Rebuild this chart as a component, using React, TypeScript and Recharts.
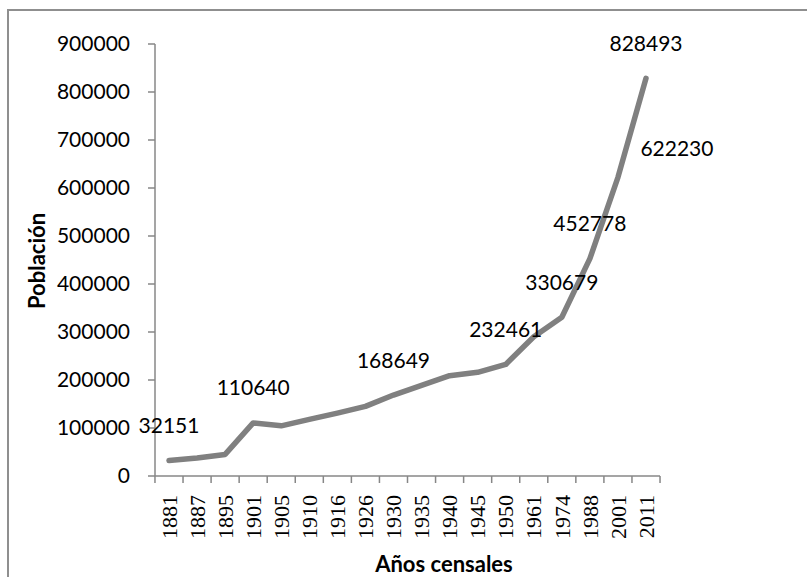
import { ComposedChart, Line, XAxis, YAxis, LabelList } from 'recharts';

const years = ['1881', '1887', '1895', '1901', '1905', '1910', '1916', '1926', '1930', '1935', '1940', '1945', '1950', '1961', '1974', '1988', '2001', '2011'];
const poblacion = [32151, 37500, 45000, 110640, 104500, 118000, 131000, 145000, 168649, 189000, 209000, 216000, 232461, 290000, 330679, 452778, 622230, 828493];
const labeledYears = ['1881', '1901', '1930', '1950', '1974', '1988', '2001', '2011'];
const yTicks = [0, 100000, 200000, 300000, 400000, 500000, 600000, 700000, 800000, 900000];

const data = years.map((year, i) => ({ year, poblacion: poblacion[i] }));

const AXIS = '#878787';
const NUM_FONT = 'Lato, "Open Sans", sans-serif';

const YearTick = (props: any) => {
  const { x, y, payload, index, width, visibleTicksCount } = props;
  const half = width && visibleTicksCount ? width / visibleTicksCount / 2 : 14;
  return (
    <g>
      {index === 0 && <line x1={x - half} y1={y} x2={x - half} y2={y + 7} stroke={AXIS} strokeWidth={1.5} />}
      <line x1={x + half} y1={y} x2={x + half} y2={y + 7} stroke={AXIS} strokeWidth={1.5} />
      <text
        transform={`translate(${x},${y + 19}) rotate(-90)`}
        textAnchor='end'
        dy='0.35em'
        fontFamily='"Liberation Serif", "Times New Roman", serif'
        fontSize={22}
        fill='#000'
      >
        {payload.value}
      </text>
    </g>
  );
};

const renderLabel = (props: any) => {
  const { x, y, value, index } = props;
  if (!labeledYears.includes(years[index])) return null;
  // 2001 label sits to the right of the line
  const dx = years[index] === '2001' ? 59 : 0;
  const dy = years[index] === '2001' ? -30 : -36;
  return (
    <text
      x={x + dx}
      y={y + dy}
      textAnchor='middle'
      dominantBaseline='central'
      fontFamily={NUM_FONT}
      fontSize={21}
      fill='#000'
    >
      {value}
    </text>
  );
};

export default function App() {
  return (
    <div style={{ position: 'relative', width: 807, height: 577, background: '#fff' }}>
      <style>{'body{margin:0}'}</style>
      <ComposedChart
        width={807}
        height={577}
        data={data}
        margin={{ top: 44, right: 147, left: 80, bottom: 31 }}
      >
        <XAxis
          dataKey='year'
          scale='point'
          padding={{ left: 14, right: 14 }}
          height={70}
          interval={0}
          stroke={AXIS}
          strokeWidth={1.5}
          tickLine={false}
          tickSize={0}
          tickMargin={0}
          tick={<YearTick />}
        />
        <YAxis
          width={75}
          domain={[0, 900000]}
          ticks={yTicks}
          interval={0}
          stroke={AXIS}
          strokeWidth={1.5}
          tickSize={7}
          tickMargin={18}
          tick={{ fill: '#000', fontFamily: NUM_FONT, fontSize: 21 }}
        />
        <Line
          dataKey='poblacion'
          stroke='#808080'
          strokeWidth={5.5}
          strokeLinecap='round'
          strokeLinejoin='round'
          dot={false}
          isAnimationActive={false}
        >
          <LabelList dataKey='poblacion' content={renderLabel} />
        </Line>
      </ComposedChart>
      <svg
        width={807}
        height={577}
        style={{ position: 'absolute', left: 0, top: 0, pointerEvents: 'none' }}
      >
        <path d='M8,577 L8,10 L807,10' fill='none' stroke='#8f8f8f' strokeWidth={2} />
        <text
          transform='translate(36,261) rotate(-90)'
          textAnchor='middle'
          dominantBaseline='central'
          fontFamily={NUM_FONT}
          fontWeight='bold'
          fontSize={22}
          fill='#000'
        >
          Población
        </text>
        <text
          x={444}
          y={563}
          textAnchor='middle'
          dominantBaseline='central'
          fontFamily={NUM_FONT}
          fontWeight='bold'
          fontSize={22}
          fill='#000'
        >
          Años censales
        </text>
      </svg>
    </div>
  );
}
